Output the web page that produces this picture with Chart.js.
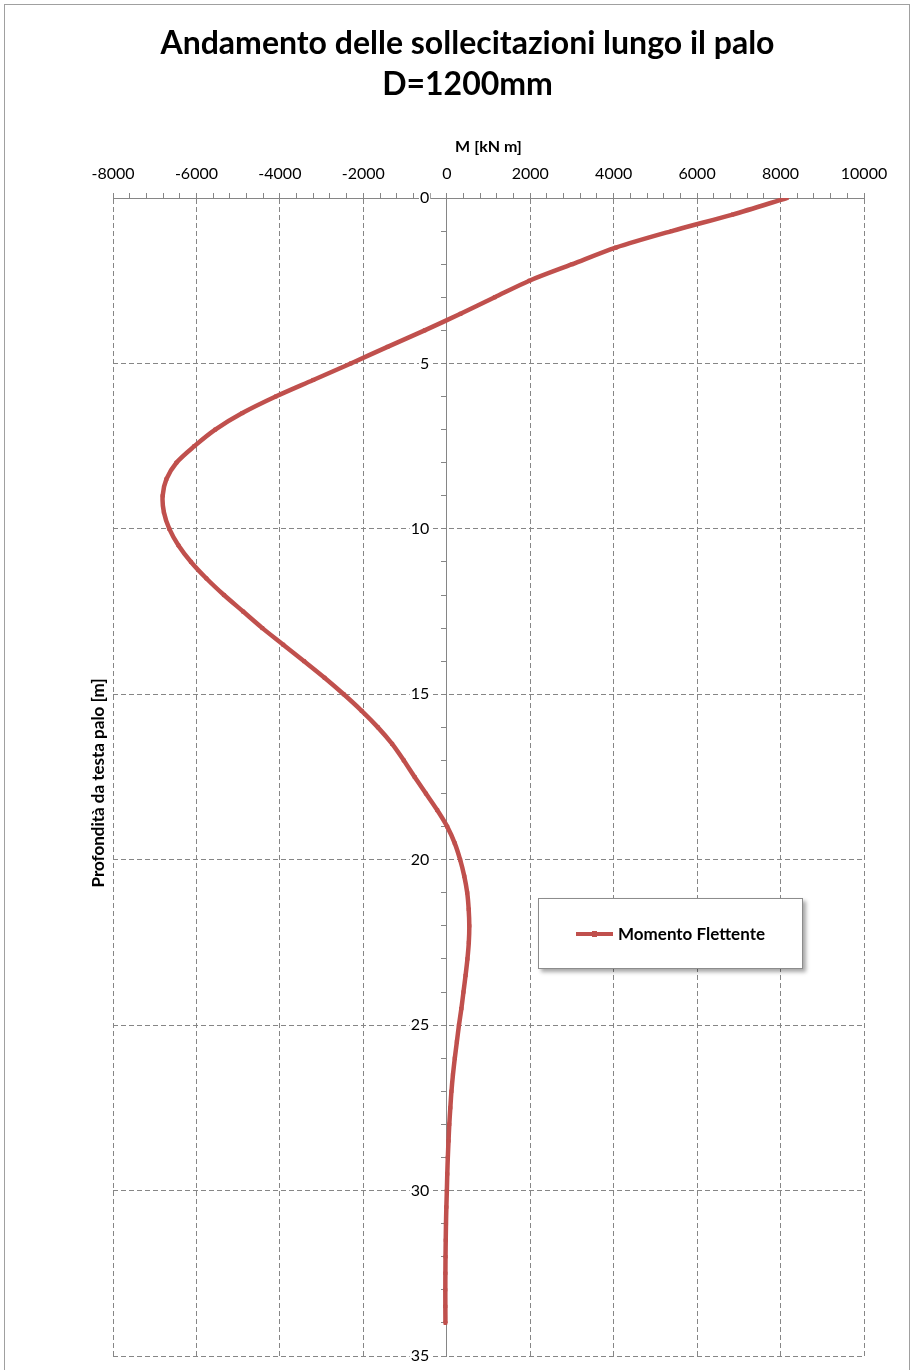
<!DOCTYPE html>
<html lang="it">
<head>
<meta charset="utf-8">
<title>Andamento delle sollecitazioni lungo il palo</title>
<script src="https://cdn.jsdelivr.net/npm/chart.js@4.4.1/dist/chart.umd.min.js"></script>
<style>
  html, body { margin: 0; padding: 0; background: #fff; }
  #wrap { position: relative; width: 913px; height: 1370px; overflow: hidden; font-family: Lato, sans-serif; }
  #frame { position: absolute; left: 4px; top: 4px; width: 906px; height: 1400px; border: 1px solid #a0a0a0; box-sizing: border-box; }
  #chartBox { position: absolute; left: 0; top: 0; width: 913px; height: 1370px; }
  #title {
    position: absolute; left: 0; top: 21px; width: 935px; text-align: center;
    font-weight: bold; font-size: 32px; line-height: 41px; color: #000;
  }
  #legend {
    position: absolute; left: 538px; top: 898px; width: 265px; height: 71px;
    box-sizing: border-box; border: 1px solid #8c8c8c; background: #fff;
    box-shadow: 3px 3px 4px rgba(0, 0, 0, 0.35);
    display: flex; align-items: center; justify-content: center;
  }
  #legend .item { display: flex; align-items: center; font-weight: bold; font-size: 17px; color: #000; }
  #legend .swatch { position: relative; width: 37px; height: 4px; margin-right: 5px; }
  #legend .swatch span { position: absolute; left: 16px; top: -1px; width: 5px; height: 6px; }
</style>
</head>
<body>
<div id="wrap">
  <div id="frame"></div>
  <div id="chartBox"><canvas id="momentChart"></canvas></div>
  <div id="title"></div>
  <div id="legend"></div>
</div>
<script>
// profondita' da testa palo [m]
const depthM = [
  0, 0.5, 1, 1.5, 2, 2.5, 3, 3.5, 4, 4.5,
  5, 5.5, 6, 6.5, 7, 7.5, 8, 8.5, 9, 9.5,
  10, 10.5, 11, 11.5, 12, 12.5, 13, 13.5, 14, 14.5,
  15, 15.5, 16, 16.5, 17, 17.5, 18, 18.5, 19, 19.5,
  20, 20.5, 21, 21.5, 22, 22.5, 23, 23.5, 24, 24.5,
  25, 25.5, 26, 26.5, 27, 27.5, 28, 28.5, 29, 29.5,
  30, 30.5, 31, 31.5, 32, 32.5, 33, 33.5, 34
];

// momento flettente [kN m]
const momentKNm = [
  8150, 6850, 5390, 4050, 3010, 1980, 1150, 330, -530, -1420,
  -2300, -3200, -4100, -4900, -5550, -6050, -6480, -6720, -6810, -6780,
  -6650, -6430, -6130, -5760, -5340, -4880, -4420, -3920, -3420, -2930,
  -2470, -2040, -1650, -1310, -1030, -770, -500, -230, 10, 190,
  320, 420, 490, 525, 540, 528, 495, 450, 400, 350,
  292, 242, 192, 148, 112, 85, 60, 42, 25, 12,
  2, -10, -19, -25, -30, -33, -35, -34, -32
];

const xTickLabels = [-8000, -6000, -4000, -2000, 0, 2000, 4000, 6000, 8000, 10000];
const yTickLabels = [0, 5, 10, 15, 20, 25, 30, 35];

const SERIES_LABEL = 'Momento Flettente';
const CHART_TITLE = ['Andamento delle sollecitazioni lungo il palo', 'D=1200mm'];
const X_TITLE = 'M [kN m]';
const Y_TITLE = 'Profondità da testa palo [m]';

const LINE_COLOR = '#C0504D';
const AXIS_COLOR = '#868686';

Chart.defaults.font.family = 'Lato, sans-serif';
Chart.defaults.color = '#000';

document.getElementById('title').innerHTML = CHART_TITLE.map(t => '<div>' + t + '</div>').join('');

// titolo asse verticale a sinistra dell'area del grafico
const yTitlePlugin = {
  id: 'yTitle',
  afterDraw(chart) {
    const { ctx, chartArea } = chart;
    ctx.save();
    ctx.translate(chartArea.left - 14, (chartArea.top + chartArea.bottom) / 2 + 6);
    ctx.rotate(-Math.PI / 2);
    ctx.font = 'bold 17px Lato, sans-serif';
    ctx.fillStyle = '#000';
    ctx.textAlign = 'center';
    ctx.textBaseline = 'middle';
    ctx.fillText(Y_TITLE, 0, 0);
    ctx.restore();
  }
};

const ctx = document.getElementById('momentChart').getContext('2d');
const chart = new Chart(ctx, {
  type: 'scatter',
  data: {
    datasets: [{
      label: SERIES_LABEL,
      data: depthM.map((d, i) => ({ x: momentKNm[i], y: d })),
      showLine: true,
      borderColor: LINE_COLOR,
      backgroundColor: LINE_COLOR,
      borderWidth: 4.5,
      tension: 0.3,
      pointStyle: 'rect',
      pointRadius: 2.2,
      pointHoverRadius: 2.2,
      pointBorderWidth: 1
    }]
  },
  options: {
    responsive: true,
    maintainAspectRatio: false,
    animation: false,
    layout: { padding: { top: 123.6, left: 113, right: 49, bottom: 14 } },
    plugins: {
      legend: { display: false },
      tooltip: { enabled: false },
      title: { display: false }
    },
    scales: {
      x: {
        type: 'linear',
        position: 'top',
        min: -8000,
        max: 10000,
        title: {
          display: true,
          text: X_TITLE,
          font: { size: 16, weight: 'bold' },
          padding: { top: 14, bottom: -3 }
        },
        ticks: {
          stepSize: 400,
          autoSkip: false,
          maxRotation: 0,
          padding: 10,
          font: { size: 16 },
          callback: v => xTickLabels.includes(v) ? String(v) : ''
        },
        grid: {
          color: c => (c.tick && xTickLabels.includes(c.tick.value)) ? AXIS_COLOR : 'transparent',
          tickColor: AXIS_COLOR,
          tickLength: 5,
          lineWidth: 1
        },
        border: { display: true, color: AXIS_COLOR, width: 1, dash: [5, 3] }
      },
      y: {
        type: 'linear',
        position: { x: 0 },
        reverse: true,
        min: 0,
        max: 35,
        ticks: { stepSize: 1, autoSkip: false, display: false },
        grid: {
          color: c => (c.tick && yTickLabels.includes(c.tick.value) && c.tick.value !== 0) ? AXIS_COLOR : 'transparent',
          tickColor: AXIS_COLOR,
          tickLength: 5,
          lineWidth: 1
        },
        border: { display: true, color: AXIS_COLOR, width: 1, dash: [5, 3] }
      },
      // etichette della profondita' appena a sinistra dell'asse M = 0
      yLabels: {
        type: 'linear',
        axis: 'y',
        position: { x: -420 },
        reverse: true,
        min: 0,
        max: 35,
        ticks: {
          stepSize: 5,
          autoSkip: false,
          font: { size: 16 },
          showLabelBackdrop: true,
          backdropColor: '#fff',
          backdropPadding: 1,
          callback: v => yTickLabels.includes(v) ? String(v) : ''
        },
        grid: { display: false, drawTicks: false },
        border: { display: false }
      }
    }
  },
  plugins: [yTitlePlugin]
});

// legenda HTML costruita dai dataset del grafico
function buildLegend(chart) {
  const box = document.getElementById('legend');
  box.innerHTML = '';
  chart.data.datasets.forEach(ds => {
    const item = document.createElement('div');
    item.className = 'item';
    const sw = document.createElement('div');
    sw.className = 'swatch';
    sw.style.background = ds.borderColor;
    const mk = document.createElement('span');
    mk.style.background = ds.borderColor;
    sw.appendChild(mk);
    const label = document.createElement('span');
    label.textContent = ds.label;
    item.appendChild(sw);
    item.appendChild(label);
    box.appendChild(item);
  });
}
buildLegend(chart);
</script>
</body>
</html>
